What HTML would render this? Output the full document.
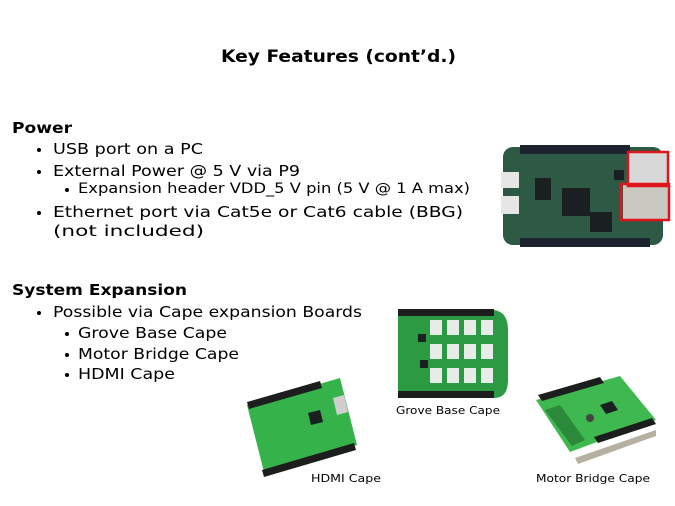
<!DOCTYPE html>
<html><head><meta charset="utf-8"><style>
html,body{margin:0;padding:0;background:#fff;}
svg{display:block;font-family:"DejaVu Sans","Liberation Sans",sans-serif;}
</style></head><body>
<svg width="675" height="506" viewBox="0 0 675 506" xmlns="http://www.w3.org/2000/svg">
<rect width="675" height="506" fill="#fff"/>
<text x="221" y="62" font-size="17" font-weight="bold" textLength="235" lengthAdjust="spacingAndGlyphs">Key Features (cont’d.)</text>

<g font-size="15.5" fill="#000">
<text x="12" y="133" font-weight="bold" textLength="60" lengthAdjust="spacingAndGlyphs">Power</text>
<circle cx="39" cy="150" r="2"/>
<text x="53" y="154" textLength="150" lengthAdjust="spacingAndGlyphs">USB port on a PC</text>
<circle cx="39" cy="172" r="2"/>
<text x="53" y="176" textLength="247" lengthAdjust="spacingAndGlyphs">External Power @ 5 V via P9</text>
<circle cx="67" cy="190" r="2"/>
<text x="78" y="193" font-size="14" textLength="392" lengthAdjust="spacingAndGlyphs">Expansion header VDD_5 V pin (5 V @ 1 A max)</text>
<circle cx="39" cy="213" r="2"/>
<text x="53" y="217" textLength="410" lengthAdjust="spacingAndGlyphs">Ethernet port via Cat5e or Cat6 cable (BBG)</text>
<text x="53" y="236" textLength="151" lengthAdjust="spacingAndGlyphs">(not included)</text>

<text x="12" y="295" font-weight="bold" textLength="175" lengthAdjust="spacingAndGlyphs">System Expansion</text>
<circle cx="39" cy="313" r="2"/>
<text x="53" y="317" textLength="309" lengthAdjust="spacingAndGlyphs">Possible via Cape expansion Boards</text>
<circle cx="67" cy="334" r="2"/>
<text x="78" y="338" textLength="149" lengthAdjust="spacingAndGlyphs">Grove Base Cape</text>
<circle cx="67" cy="355" r="2"/>
<text x="78" y="359" textLength="161" lengthAdjust="spacingAndGlyphs">Motor Bridge Cape</text>
<circle cx="67" cy="375" r="2"/>
<text x="78" y="379" textLength="97" lengthAdjust="spacingAndGlyphs">HDMI Cape</text>
</g>

<!-- BeagleBone Green -->
<g>
<rect x="503" y="147" width="160" height="98" rx="10" fill="#2e5a45"/>
<rect x="520" y="145" width="110" height="9" fill="#1d2430"/>
<rect x="520" y="238" width="130" height="9" fill="#1d2430"/>
<rect x="501" y="172" width="18" height="16" fill="#e6e6e6"/>
<rect x="501" y="196" width="18" height="18" fill="#e6e6e6"/>
<rect x="562" y="188" width="28" height="28" fill="#1a1f22"/>
<rect x="535" y="178" width="16" height="22" fill="#1a1f22"/>
<rect x="590" y="212" width="22" height="20" fill="#1a1f22"/>
<rect x="614" y="170" width="10" height="10" fill="#1a1f22"/>
<rect x="628" y="152" width="40" height="34" fill="#d8d8d8"/>
<rect x="623" y="184" width="45" height="36" fill="#c9c9c2"/>
<rect x="628" y="152" width="40" height="34" fill="none" stroke="#e0141b" stroke-width="2.5"/>
<rect x="621" y="184" width="48" height="36" fill="none" stroke="#e0141b" stroke-width="2.5"/>
</g>

<!-- Grove base cape -->
<g>
<path d="M398 310 H494 Q508 312 508 330 V380 Q508 398 494 398 H398 Z" fill="#2c9a43"/>
<rect x="398" y="309" width="96" height="7" fill="#1c1e1e"/>
<rect x="398" y="391" width="96" height="7" fill="#1c1e1e"/>
<g fill="#e8ece8">
<rect x="430" y="320" width="12" height="15"/><rect x="447" y="320" width="12" height="15"/><rect x="464" y="320" width="12" height="15"/><rect x="481" y="320" width="12" height="15"/>
<rect x="430" y="344" width="12" height="15"/><rect x="447" y="344" width="12" height="15"/><rect x="464" y="344" width="12" height="15"/><rect x="481" y="344" width="12" height="15"/>
<rect x="430" y="368" width="12" height="15"/><rect x="447" y="368" width="12" height="15"/><rect x="464" y="368" width="12" height="15"/><rect x="481" y="368" width="12" height="15"/>
</g>
<rect x="418" y="334" width="8" height="8" fill="#1a1f22"/>
<rect x="420" y="360" width="8" height="8" fill="#1a1f22"/>
</g>
<text x="396" y="414" font-size="11" textLength="104" lengthAdjust="spacingAndGlyphs">Grove Base Cape</text>

<!-- HDMI cape -->
<g>
<polygon points="247,405 340,378 357,445 264,472" fill="#36b24a"/>
<polygon points="247,402 320,381 322,388 249,409" fill="#1c1e1e"/>
<polygon points="262,470 354,443 356,450 264,477" fill="#1c1e1e"/>
<polygon points="333,398 344,395 348,412 337,415" fill="#cfcfcf"/>
<polygon points="308,413 320,410 323,422 311,425" fill="#1a1f22"/>
</g>
<text x="311" y="482" font-size="11" textLength="70" lengthAdjust="spacingAndGlyphs">HDMI Cape</text>

<!-- Motor bridge cape -->
<g>
<polygon points="536,400 620,376 656,420 570,452" fill="#3fb850"/>
<polygon points="538,395 600,377 604,383 542,401" fill="#1c1e1e"/>
<polygon points="594,437 652,418 656,424 598,443" fill="#1c1e1e"/>
<polygon points="545,410 560,405 585,440 572,446" fill="#2a8a3a"/>
<polygon points="575,458 656,430 656,436 578,464" fill="#b5b0a0"/>
<polygon points="600,405 612,401 618,410 606,414" fill="#1a1f22"/>
<circle cx="590" cy="418" r="4" fill="#444"/>
</g>
<text x="536" y="482" font-size="11" textLength="114" lengthAdjust="spacingAndGlyphs">Motor Bridge Cape</text>
</svg>
</body></html>
